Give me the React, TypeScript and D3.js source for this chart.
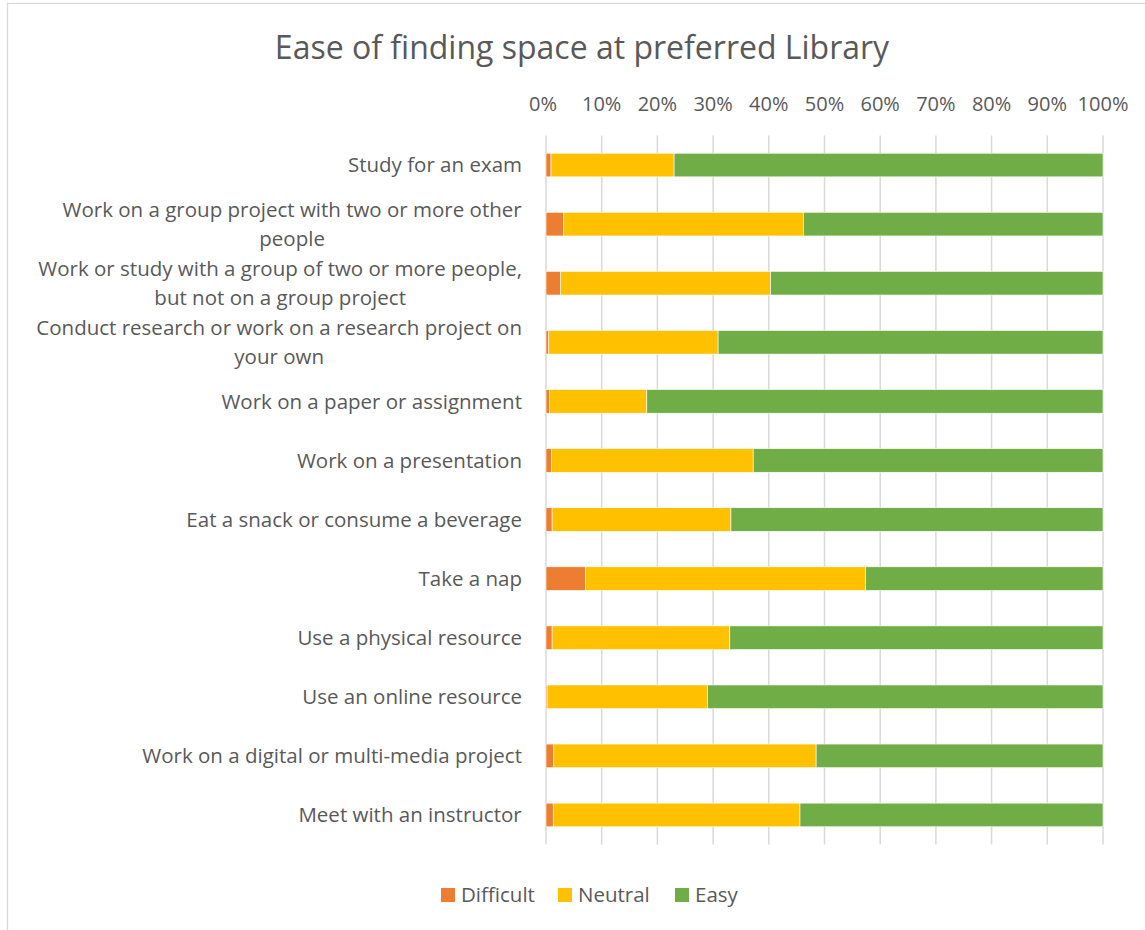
import * as d3 from "d3";
import { useEffect, useRef } from "react";

const categories: string[][] = [
  ["Study for an exam"],
  ["Work on a group project with two or more other", "people"],
  ["Work or study with a group of two or more people,", "but not on a group project"],
  ["Conduct research or work on a research project on", "your own"],
  ["Work on a paper or assignment"],
  ["Work on a presentation"],
  ["Eat a snack or consume a beverage"],
  ["Take a nap"],
  ["Use a physical resource"],
  ["Use an online resource"],
  ["Work on a digital or multi-media project"],
  ["Meet with an instructor"],
];
const difficult = [0.9, 3.2, 2.6, 0.5, 0.6, 1.0, 1.1, 7.1, 1.1, 0.2, 1.4, 1.3];
const neutral = [22.1, 43.0, 37.7, 30.4, 17.5, 36.2, 32.1, 50.3, 31.9, 28.8, 47.1, 44.3];
const easy = [77.0, 53.8, 59.7, 69.1, 81.9, 62.8, 66.8, 42.6, 67.0, 71.0, 51.5, 54.4];
const seriesNames = ["Difficult", "Neutral", "Easy"];
const colors = ["#ED7D31", "#FFC000", "#70AD47"];
const ticks = [0, 10, 20, 30, 40, 50, 60, 70, 80, 90, 100];

const title = "Ease of finding space at preferred Library";

export default function App() {
  const width = 1145;
  const height = 930;
  const marginLeft = 546;
  const marginRight = 42;
  const marginTop = 135.5;
  const plotBottom = 844.5;
  const font = "'Open Sans', 'Noto Sans', sans-serif";
  const textColor = "#595959";

  const labelsRef = useRef<SVGGElement>(null);

  const rows = categories.map((c, i) => ({
    key: String(i),
    Difficult: difficult[i],
    Neutral: neutral[i],
    Easy: easy[i],
  }));
  const stacked = d3.stack<any>().keys(seriesNames)(rows);

  const x = d3.scaleLinear([0, 100], [marginLeft, width - marginRight]);
  const y = d3
    .scaleBand<string>()
    .domain(rows.map((r) => r.key))
    .range([marginTop, plotBottom])
    .paddingInner(0.6)
    .paddingOuter(0.3);

  useEffect(() => {
    if (!labelsRef.current) return;
    const g = d3.select(labelsRef.current);
    g.selectAll("*").remove();
    const lineH = 29;
    categories.forEach((lines, i) => {
      const cy = (y(String(i)) as number) + y.bandwidth() / 2;
      const t = g
        .append("text")
        .attr("font-family", font)
        .attr("font-size", 20.5)
        .attr("fill", textColor)
        .attr("text-anchor", "middle");
      lines.forEach((ln, j) => {
        t.append("tspan")
          .attr("x", 0)
          .attr("y", cy + (j - (lines.length - 1) / 2) * lineH)
          .attr("dy", "0.35em")
          .text(ln);
      });
      const w = (t.node() as SVGTextElement).getBBox().width;
      t.selectAll("tspan").attr("x", 522 - w / 2);
    });
  }, []);

  return (
    <svg
      width={width}
      height={height}
      style={{ position: "absolute", left: 0, top: 0, background: "#fff" }}
    >
      <rect x={7.5} y={3.5} width={1200} height={1000} fill="#fff" stroke="#D9D9D9" strokeWidth={1.3} />
      <text
        x={582}
        y={59}
        textAnchor="middle"
        fontFamily={font}
        fontSize={32}
        fill={textColor}
      >
        {title}
      </text>
      <g>
        {ticks.map((t) => (
          <g key={t}>
            <line x1={x(t)} x2={x(t)} y1={marginTop} y2={plotBottom} stroke="#D9D9D9" strokeWidth={1.5} />
            <text
              x={x(t) - (t === 0 ? 3 : 0)}
              y={111}
              textAnchor="middle"
              fontFamily={font}
              fontSize={20}
              fill={textColor}
            >
              {t}%
            </text>
          </g>
        ))}
      </g>
      {stacked.map((s, si) => (
        <g key={s.key} fill={colors[si]}>
          {s.map((d, i) => (
            <rect
              key={i}
              x={x(d[0])}
              y={y(String(i))}
              width={Math.max(0, x(d[1]) - x(d[0]))}
              height={y.bandwidth()}
              stroke="#fff"
              strokeWidth={0.6}
            />
          ))}
        </g>
      ))}
      <g ref={labelsRef} />
      <g fontFamily={font} fontSize={20.5} fill={textColor}>
        {seriesNames.map((n, i) => {
          const lx = [441, 558, 675][i];
          return (
            <g key={n}>
              <rect x={lx} y={888} width={14} height={14} fill={colors[i]} />
              <text x={lx + 20} y={895} dy="0.35em">
                {n}
              </text>
            </g>
          );
        })}
      </g>
    </svg>
  );
}
